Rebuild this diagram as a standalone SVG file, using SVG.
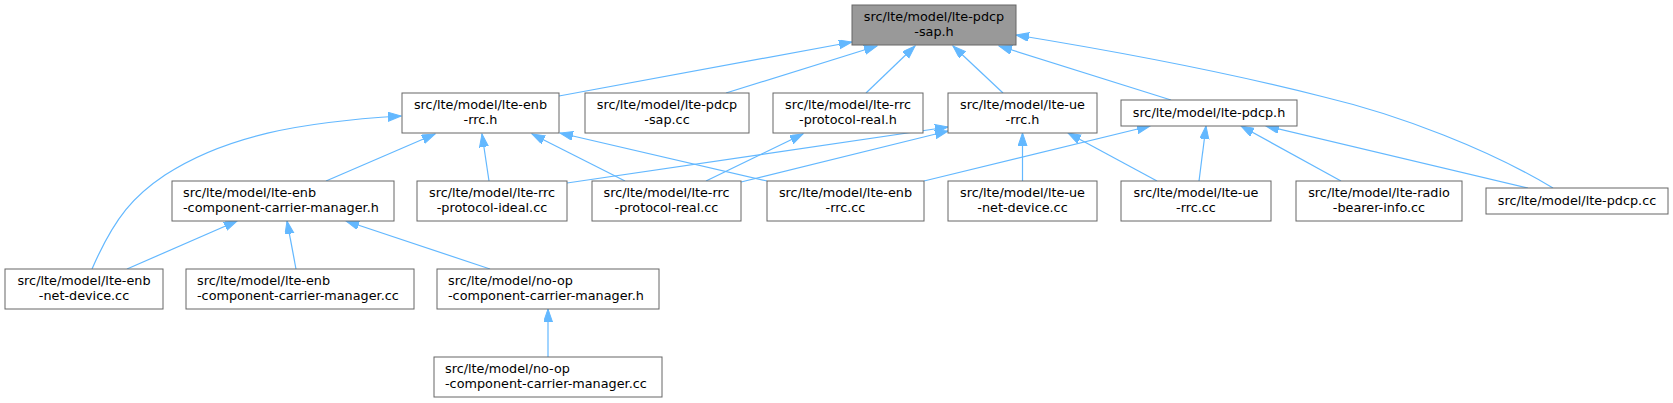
<svg xmlns="http://www.w3.org/2000/svg" width="1673" height="403" viewBox="0 0 1673 403">
<style>
.n rect{fill:#ffffff;stroke:#666666;stroke-width:1}
.n.root rect{fill:#999999}
.n text{font-family:"DejaVu Sans",sans-serif;font-size:12.8px;fill:#000000}
.c{text-anchor:middle}
#edges path{fill:none;stroke:#63b8ff;stroke-width:1.2;marker-end:url(#arr)}
</style>
<defs>
<marker id="arr" markerUnits="userSpaceOnUse" markerWidth="14" markerHeight="10" refX="13" refY="4.5" orient="auto">
<path d="M0,0 L13,4.5 L0,9 z" fill="#63b8ff" stroke="#63b8ff" stroke-width="1"/>
</marker>
</defs>
<rect x="0" y="0" width="1673" height="403" fill="#ffffff"/>
<g id="edges">
<path d="M559,96 L852,42"/>
<path d="M726,93 L877,46"/>
<path d="M866,93 L915,46"/>
<path d="M1003,93 L953,46"/>
<path d="M1171,100 L999,46"/>
<path d="M1553,188 C1490,150 1400,115 1324,97 C1230,73 1120,52 1016,35"/>
<path d="M92,269 C115,216 135,195 165,175 C225,136 300,122 401,116"/>
<path d="M326,181 L435,134"/>
<path d="M489,181 L482,134"/>
<path d="M625,181 L532,134"/>
<path d="M767,181 L560,133"/>
<path d="M567,183 L948,127"/>
<path d="M741,182 L948,131"/>
<path d="M1022.5,181 L1022.5,133"/>
<path d="M1157,181 L1068,133"/>
<path d="M706,181 L803,134"/>
<path d="M924,181 L1150,126"/>
<path d="M1199,181 L1206,126"/>
<path d="M1341,181 L1241,126"/>
<path d="M1528,188 L1266,126"/>
<path d="M127,269 L237,221"/>
<path d="M296,269 L287,221"/>
<path d="M490,269 L346,221"/>
<path d="M548,357 L548,309"/>
</g>
<g id="n0" class="n root"><rect x="852" y="5" width="164" height="40"/><text class="c" x="934" y="20.5">src/lte/model/lte-pdcp</text><text class="c" x="934" y="35.5">-sap.h</text></g>
<g id="n1" class="n"><rect x="402" y="93" width="157" height="40"/><text class="c" x="480.5" y="108.5">src/lte/model/lte-enb</text><text class="c" x="480.5" y="123.5">-rrc.h</text></g>
<g id="n2" class="n"><rect x="585" y="93" width="164" height="40"/><text class="c" x="667" y="108.5">src/lte/model/lte-pdcp</text><text class="c" x="667" y="123.5">-sap.cc</text></g>
<g id="n3" class="n"><rect x="773" y="93" width="150" height="40"/><text class="c" x="848" y="108.5">src/lte/model/lte-rrc</text><text class="c" x="848" y="123.5">-protocol-real.h</text></g>
<g id="n4" class="n"><rect x="948" y="93" width="149" height="40"/><text class="c" x="1022.5" y="108.5">src/lte/model/lte-ue</text><text class="c" x="1022.5" y="123.5">-rrc.h</text></g>
<g id="n5" class="n"><rect x="1121" y="100" width="176" height="26"/><text class="c" x="1209" y="116.5">src/lte/model/lte-pdcp.h</text></g>
<g id="n6" class="n"><rect x="172" y="181" width="222" height="40"/><text x="183" y="196.5">src/lte/model/lte-enb</text><text x="183" y="211.5">-component-carrier-manager.h</text></g>
<g id="n7" class="n"><rect x="417" y="181" width="150" height="40"/><text class="c" x="492" y="196.5">src/lte/model/lte-rrc</text><text class="c" x="492" y="211.5">-protocol-ideal.cc</text></g>
<g id="n8" class="n"><rect x="592" y="181" width="149" height="40"/><text class="c" x="666.5" y="196.5">src/lte/model/lte-rrc</text><text class="c" x="666.5" y="211.5">-protocol-real.cc</text></g>
<g id="n9" class="n"><rect x="767" y="181" width="157" height="40"/><text class="c" x="845.5" y="196.5">src/lte/model/lte-enb</text><text class="c" x="845.5" y="211.5">-rrc.cc</text></g>
<g id="n10" class="n"><rect x="948" y="181" width="149" height="40"/><text class="c" x="1022.5" y="196.5">src/lte/model/lte-ue</text><text class="c" x="1022.5" y="211.5">-net-device.cc</text></g>
<g id="n11" class="n"><rect x="1121" y="181" width="150" height="40"/><text class="c" x="1196" y="196.5">src/lte/model/lte-ue</text><text class="c" x="1196" y="211.5">-rrc.cc</text></g>
<g id="n12" class="n"><rect x="1296" y="181" width="166" height="40"/><text class="c" x="1379" y="196.5">src/lte/model/lte-radio</text><text class="c" x="1379" y="211.5">-bearer-info.cc</text></g>
<g id="n13" class="n"><rect x="1486" y="188" width="182" height="26"/><text class="c" x="1577" y="204.5">src/lte/model/lte-pdcp.cc</text></g>
<g id="n14" class="n"><rect x="5" y="269" width="158" height="40"/><text class="c" x="84" y="284.5">src/lte/model/lte-enb</text><text class="c" x="84" y="299.5">-net-device.cc</text></g>
<g id="n15" class="n"><rect x="186" y="269" width="228" height="40"/><text x="197" y="284.5">src/lte/model/lte-enb</text><text x="197" y="299.5">-component-carrier-manager.cc</text></g>
<g id="n16" class="n"><rect x="437" y="269" width="222" height="40"/><text x="448" y="284.5">src/lte/model/no-op</text><text x="448" y="299.5">-component-carrier-manager.h</text></g>
<g id="n17" class="n"><rect x="434" y="357" width="228" height="40"/><text x="445" y="372.5">src/lte/model/no-op</text><text x="445" y="387.5">-component-carrier-manager.cc</text></g>
</svg>
